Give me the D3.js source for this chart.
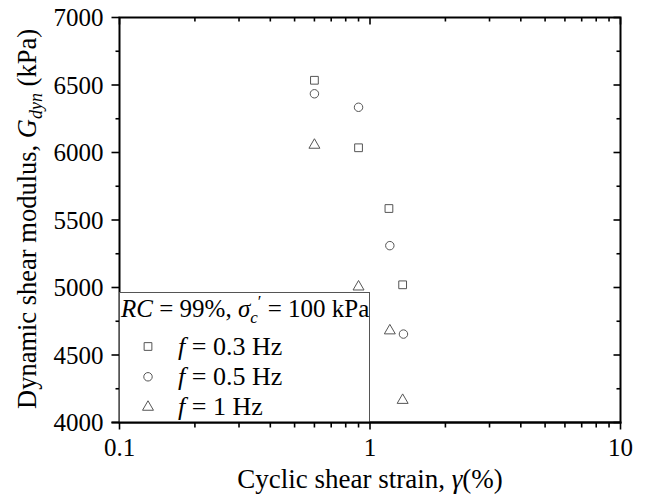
<!DOCTYPE html>
<html>
<head>
<meta charset="utf-8">
<script src="https://cdn.jsdelivr.net/npm/d3@7"></script>
<style>
  body { margin: 0; background: #fff; }
  svg text { font-family: "Liberation Serif", "Times New Roman", serif; fill: #000; }
</style>
</head>
<body>
<div id="chart"></div>
<script>
// data
var freqs = ["0.3", "0.5", "1"];
var strain03 = [0.6, 0.9, 1.19, 1.35];
var gdyn03 = [6535, 6035, 5585, 5020];
var strain05 = [0.6, 0.9, 1.2, 1.36];
var gdyn05 = [6435, 6335, 5310, 4655];
var strain1 = [0.6, 0.9, 1.2, 1.35];
var gdyn1 = [6055, 5005, 4680, 4165];
var xTicks = [0.1, 1, 10];
var yTicks = [4000, 4500, 5000, 5500, 6000, 6500, 7000];

var series = [
  { f: freqs[0], sym: d3.symbolSquare, size: 60, x: strain03, y: gdyn03 },
  { f: freqs[1], sym: d3.symbolCircle, size: 56, x: strain05, y: gdyn05 },
  { f: freqs[2], sym: d3.symbolTriangle, size: 52, x: strain1, y: gdyn1 }
];

var W = 646, H = 499;
var mLeft = 119.5, mRight = 620.5, mTop = 17.5, mBottom = 422.5;

var svg = d3.select("#chart").append("svg")
  .attr("width", W).attr("height", H);

var x = d3.scaleLog().domain([0.1, 10]).range([mLeft, mRight]);
var y = d3.scaleLinear().domain([4000, 7000]).range([mBottom, mTop]);

var xMinor = [];
[0.1, 1].forEach(function (d) {
  for (var k = 2; k <= 9; k++) xMinor.push(d * k);
});
var yMinor = d3.range(4250, 7000, 500);

function drawTicks(g, scale, vals, len, horiz, pos) {
  g.selectAll(null).data(vals).enter().append("line")
    .attr("x1", function (d) { return horiz ? scale(d) : pos; })
    .attr("x2", function (d) { return horiz ? scale(d) : pos + len; })
    .attr("y1", function (d) { return horiz ? pos : scale(d); })
    .attr("y2", function (d) { return horiz ? pos + len : scale(d); })
    .attr("stroke", "#000").attr("stroke-width", 1.6);
}

var ax = svg.append("g");
// bottom: outward
drawTicks(ax, x, xTicks, 7, true, mBottom);
drawTicks(ax, x, xMinor, 5, true, mBottom);
// top: inward
drawTicks(ax, x, xTicks, 7, true, mTop);
drawTicks(ax, x, xMinor, 4, true, mTop);
// left: outward
drawTicks(ax, y, yTicks, -8, false, mLeft);
drawTicks(ax, y, yMinor, -4, false, mLeft);
// right: inward
drawTicks(ax, y, yTicks, -7, false, mRight);
drawTicks(ax, y, yMinor, -4, false, mRight);

ax.append("rect")
  .attr("x", mLeft).attr("y", mTop)
  .attr("width", mRight - mLeft).attr("height", mBottom - mTop)
  .attr("fill", "none").attr("stroke", "#000").attr("stroke-width", 2);

// tick labels
svg.append("g").selectAll("text").data(xTicks).enter().append("text")
  .attr("x", function (d) { return x(d); })
  .attr("y", 456)
  .attr("text-anchor", "middle")
  .attr("font-size", 25)
  .text(function (d) { return d; });

svg.append("g").selectAll("text").data(yTicks).enter().append("text")
  .attr("x", mLeft - 16)
  .attr("y", function (d) { return y(d) + 8.5; })
  .attr("text-anchor", "end")
  .attr("font-size", 25)
  .text(function (d) { return d; });

// axis titles
var xt = svg.append("text")
  .attr("x", 370)
  .attr("y", 488)
  .attr("text-anchor", "middle")
  .attr("font-size", 27);
xt.append("tspan").text("Cyclic shear strain, ");
xt.append("tspan").attr("font-style", "italic").text("γ");
xt.append("tspan").text("(%)");

var yt = svg.append("text")
  .attr("transform", "translate(36,219) rotate(-90)")
  .attr("text-anchor", "middle")
  .attr("font-size", 26.5);
yt.append("tspan").text("Dynamic shear modulus, ");
yt.append("tspan").attr("font-style", "italic").text("G");
yt.append("tspan").attr("font-style", "italic").attr("font-size", 18).attr("dy", 6).text("dyn");
yt.append("tspan").attr("dy", -6).text(" (kPa)");

// data points
series.forEach(function (s) {
  svg.append("g").selectAll("path").data(s.x).enter().append("path")
    .attr("transform", function (d, i) { return "translate(" + x(d) + "," + y(s.y[i]) + ")"; })
    .attr("d", d3.symbol().type(s.sym).size(s.size))
    .attr("fill", "none").attr("stroke", "#555").attr("stroke-width", 1);
});

// legend
var lg = svg.append("g");
lg.append("rect")
  .attr("x", mLeft).attr("y", 292.5)
  .attr("width", 369.5 - mLeft).attr("height", mBottom - 292.5)
  .attr("fill", "#fff").attr("stroke", "#555").attr("stroke-width", 1);

var t0 = lg.append("text").attr("x", 121).attr("y", 317).attr("font-size", 25);
t0.append("tspan").attr("font-style", "italic").text("RC");
t0.append("tspan").text(" = 99%, ");
t0.append("tspan").attr("font-style", "italic").text("σ");
t0.append("tspan").attr("font-style", "italic").attr("font-size", 17).attr("dy", 6).text("c");
t0.append("tspan").attr("dy", -16).attr("font-size", 17).text("′");
t0.append("tspan").attr("dy", 10).text(" = 100 kPa");

series.forEach(function (s, i) {
  var yy = 346.5 + i * 30.3;
  lg.append("path")
    .attr("transform", "translate(148," + yy + ")")
    .attr("d", d3.symbol().type(s.sym).size(s.size))
    .attr("fill", "none").attr("stroke", "#555").attr("stroke-width", 1);
  var t = lg.append("text").attr("x", 178).attr("y", yy + 8).attr("font-size", 26);
  t.append("tspan").attr("font-style", "italic").text("f");
  t.append("tspan").text(" = " + s.f + " Hz");
});
// bottom axis line redrawn over legend box
svg.append("line").attr("x1", mLeft - 8).attr("x2", mRight + 1).attr("y1", mBottom).attr("y2", mBottom)
  .attr("stroke", "#000").attr("stroke-width", 2);
</script>
</body>
</html>
